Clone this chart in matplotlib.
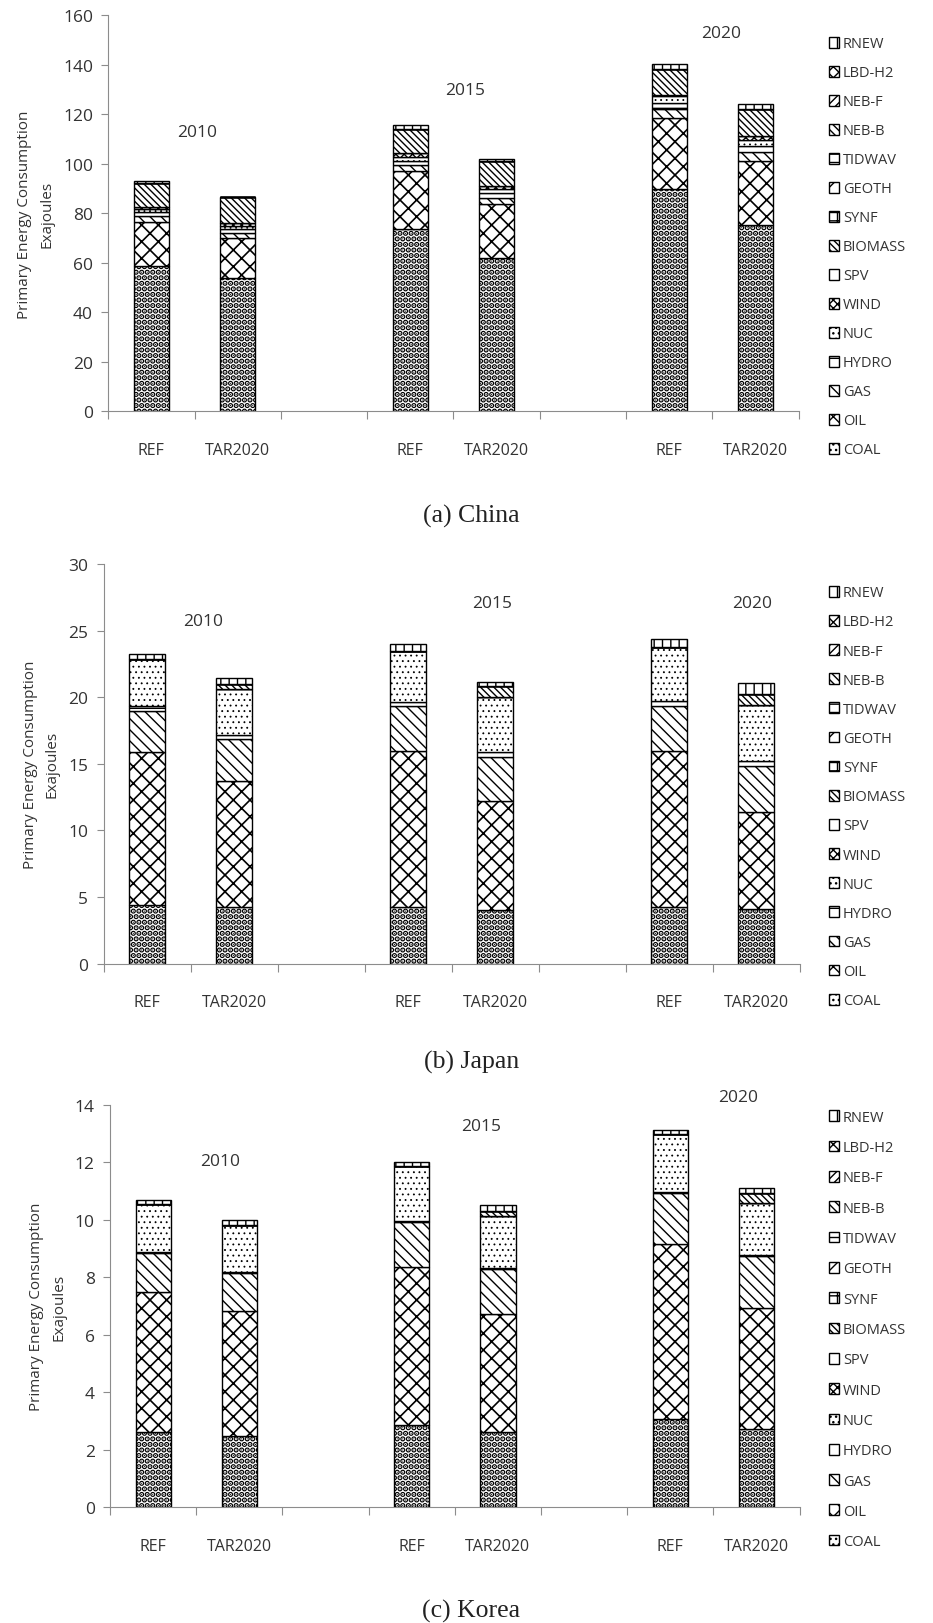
import numpy as np
import matplotlib
matplotlib.use('Agg')
import matplotlib.pyplot as plt

plt.rcParams['font.family'] = ['Open Sans', 'DejaVu Sans']
plt.rcParams['hatch.linewidth'] = 1.0
TXT = '#333333'
AX = '#8c8c8c'

# ---- data ----
fuels = ['COAL', 'OIL', 'GAS', 'HYDRO', 'NUC', 'WIND', 'SPV', 'BIOMASS',
         'SYNF', 'GEOTH', 'TIDWAV', 'NEB-B', 'NEB-F', 'LBD-H2', 'RNEW']
categories = ['REF', 'TAR2020', '', 'REF', 'TAR2020', '', 'REF', 'TAR2020']
bar_slots = [0, 1, 3, 4, 6, 7]      # REF/TAR2020 for 2010, 2015, 2020
years = ['2010', '2015', '2020']

# bars: REF2010, TAR2010, REF2015, TAR2015, REF2020, TAR2020 (EJ)
china = {
    'COAL':    [58.7, 54.0, 73.5, 62.1, 89.7, 75.2],
    'OIL':     [17.8, 16.2, 23.6, 21.5, 28.7, 25.9],
    'GAS':     [2.4, 2.0, 2.3, 2.7, 3.6, 3.7],
    'HYDRO':   [1.6, 1.3, 1.7, 2.0, 2.7, 2.4],
    'NUC':     [1.4, 1.4, 1.8, 1.6, 2.7, 2.4],
    'WIND':    [0.5, 1.3, 1.3, 1.1, 0.2, 1.7],
    'BIOMASS': [10.0, 10.5, 10.0, 10.1, 10.5, 11.0],
    'RNEW':    [0.6, 0.0, 1.4, 1.0, 2.1, 1.7],
}
japan = {
    'COAL':    [4.37, 4.25, 4.25, 4.00, 4.25, 4.13],
    'OIL':     [11.56, 9.50, 11.75, 8.25, 11.75, 7.25],
    'GAS':     [3.07, 3.13, 3.38, 3.25, 3.38, 3.50],
    'HYDRO':   [0.37, 0.30, 0.25, 0.43, 0.38, 0.33],
    'NUC':     [3.50, 3.45, 3.87, 4.07, 4.00, 4.18],
    'BIOMASS': [0.0, 0.40, 0.0, 0.83, 0.0, 0.87],
    'RNEW':    [0.37, 0.42, 0.50, 0.35, 0.63, 0.83],
}
korea = {
    'COAL':    [2.60, 2.46, 2.86, 2.60, 3.07, 2.72],
    'OIL':     [4.90, 4.38, 5.49, 4.12, 6.09, 4.20],
    'GAS':     [1.35, 1.31, 1.57, 1.57, 1.78, 1.83],
    'HYDRO':   [0.03, 0.03, 0.03, 0.03, 0.03, 0.03],
    'NUC':     [1.67, 1.63, 1.91, 1.80, 2.02, 1.80],
    'BIOMASS': [0.0, 0.0, 0.0, 0.20, 0.0, 0.35],
    'RNEW':    [0.15, 0.20, 0.17, 0.18, 0.15, 0.18],
}

hatches = {
    'COAL': '...', 'OIL': 'xx', 'GAS': '\\\\\\', 'HYDRO': '-', 'NUC': '...',
    'WIND': 'xxxx', 'SPV': '|', 'BIOMASS': '\\\\\\\\\\', 'SYNF': '++', 'GEOTH': '//',
    'TIDWAV': '--', 'NEB-B': '\\\\\\\\', 'NEB-F': '////', 'LBD-H2': 'xxx', 'RNEW': '||',
}
hatch_lw = {'COAL': 2.8, 'OIL': 1.2, 'NUC': 0.6}

fig = plt.figure(figsize=(9.33, 16.24), dpi=100)

panels = [
    # data, ax rect, ymax, ystep, year label positions, caption, caption y, legend top, labelspacing
    (china, [0.116, 0.746, 0.740, 0.244], 160, 20,
     [(0.53, 112.7), (3.64, 129.7), (6.6, 153.0)], '(a) China', 0.682, 0.977, 0.96),
    (japan, [0.111, 0.406, 0.746, 0.246], 30, 5,
     [(0.65, 25.7), (3.97, 27.1), (6.96, 27.1)], '(b) Japan', 0.346, 0.639, 0.97),
    (korea, [0.118, 0.0714, 0.739, 0.2476], 14, 2,
     [(0.78, 12.05), (3.81, 13.27), (6.79, 14.28)], '(c) Korea', 0.008, 0.316, 1.05),
]

for data, rect, ymax, ystep, ypos, caption, cap_y, leg_top, lsp in panels:
    ax = fig.add_axes(rect)
    bottom = np.zeros(len(bar_slots))
    handles = []
    for f in fuels:
        vals = np.array(data.get(f, [0.0] * len(bar_slots)))
        with plt.rc_context({'hatch.linewidth': hatch_lw.get(f, 1.0)}):
            b = ax.bar(bar_slots, vals, width=0.41, bottom=bottom, color='white',
                       edgecolor='black', linewidth=1.0, hatch=hatches[f], label=f)
        bottom += vals
        handles.append(b)
    ax.set_xlim(-0.5, len(categories) - 0.5)
    ax.set_ylim(0, ymax)
    ax.set_yticks(np.arange(0, ymax + 0.01, ystep))
    ax.set_xticks(range(len(categories)))
    ax.set_xticklabels(categories)
    ax.set_xticks(np.arange(-0.5, len(categories), 1.0), minor=True)
    ax.tick_params(axis='x', which='major', length=0, pad=22, labelsize=11.5, labelcolor=TXT)
    ax.tick_params(axis='x', which='minor', length=6, color=AX, width=0.8)
    ax.tick_params(axis='y', length=5, color=AX, width=0.8, labelsize=12.5, labelcolor=TXT, pad=6)
    for s in ['top', 'right']:
        ax.spines[s].set_visible(False)
    for s in ['left', 'bottom']:
        ax.spines[s].set_color(AX)
        ax.spines[s].set_linewidth(0.8)
    ax.set_ylabel('Primary Energy Consumption\nExajoules', fontsize=11, color=TXT,
                  labelpad=6, linespacing=1.65)
    for yr, (xx, yy) in zip(years, ypos):
        ax.text(xx, yy, yr, ha='center', va='center', fontsize=12.5, color=TXT, clip_on=False)
    ax.legend(handles[::-1], fuels[::-1], loc='upper left',
              bbox_to_anchor=(0.888, leg_top), bbox_transform=fig.transFigure,
              frameon=False, fontsize=10.5, labelspacing=lsp, handlelength=0.75,
              handleheight=0.75, handletextpad=0.25, borderpad=0, borderaxespad=0,
              labelcolor=TXT)
    fig.text(0.505, cap_y, caption, ha='center', va='center', fontsize=18.5,
             family=['Liberation Serif', 'DejaVu Serif'], color='#222222')

fig.savefig('out.png', dpi=100, facecolor='white')
